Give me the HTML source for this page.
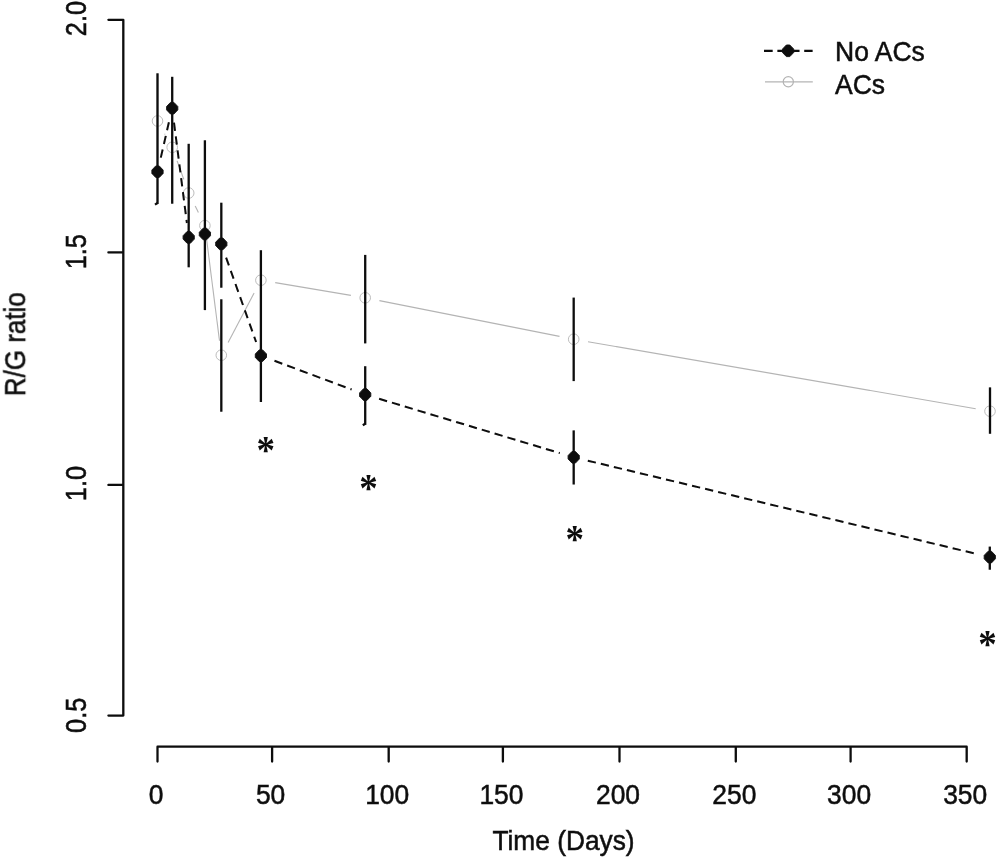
<!DOCTYPE html>
<html lang="en"><head><meta charset="utf-8"><title>R/G ratio over time</title>
<style>html,body{margin:0;padding:0;background:#fff}svg{display:block}text{font-family:"Liberation Sans",Arial,sans-serif;fill:#111;stroke:#111;stroke-width:0.5px}</style></head><body>
<svg width="1003" height="859" viewBox="0 0 1003 859">
<rect width="1003" height="859" fill="#fff"/>
<defs><filter id="soft" x="0" y="0" width="100%" height="100%" filterUnits="userSpaceOnUse"><feGaussianBlur stdDeviation="0.4"/></filter></defs>
<g filter="url(#soft)">
<g stroke="#0d0d0d" stroke-width="2.3" fill="none" stroke-linecap="round" stroke-linejoin="round">
<path d="M108.4 19.8H123.3V715.6H108.4M108.4 252.4H123.3M108.4 484.9H123.3"/>
<path d="M157.5 761.6V746.7H966.7V761.6M272.1 746.7V761.6M388.7 746.7V761.6M502.9 746.7V761.6M619.5 746.7V761.6M735.8 746.7V761.6M850.6 746.7V761.6"/>
</g>
<g font-size="26.4" text-anchor="middle">
<text transform="translate(156.0 803.7) scale(1 1.08)">0</text>
<text transform="translate(270.6 803.7) scale(1 1.08)">50</text>
<text transform="translate(387.2 803.7) scale(1 1.08)">100</text>
<text transform="translate(501.4 803.7) scale(1 1.08)">150</text>
<text transform="translate(618.0 803.7) scale(1 1.08)">200</text>
<text transform="translate(734.3 803.7) scale(1 1.08)">250</text>
<text transform="translate(849.1 803.7) scale(1 1.08)">300</text>
<text transform="translate(965.2 803.7) scale(1 1.08)">350</text>
<text transform="translate(86.1 18.5) rotate(-90) scale(1 1.17)" font-size="25.4">2.0</text>
<text transform="translate(86.1 251.7) rotate(-90) scale(1 1.17)" font-size="25.4">1.5</text>
<text transform="translate(86.1 483.5) rotate(-90) scale(1 1.17)" font-size="25.4">1.0</text>
<text transform="translate(86.1 715.3) rotate(-90) scale(1 1.17)" font-size="25.4">0.5</text>
</g>
<text transform="translate(563.5 850.2) scale(1 1.08)" font-size="26.3" text-anchor="middle">Time (Days)</text>
<text transform="translate(24.7 344.2) rotate(-90) scale(1 1.1)" font-size="26" text-anchor="middle">R/G ratio</text>
<g stroke="#b4b4b4" stroke-width="1.1" fill="none">
<line x1="164.6" y1="133.7" x2="165.1" y2="134.6"/>
<line x1="177.1" y1="160.9" x2="183.8" y2="179.4"/>
<line x1="195.2" y1="206.0" x2="198.4" y2="212.6"/>
<line x1="206.7" y1="240.0" x2="219.5" y2="340.8"/>
<line x1="228.1" y1="342.4" x2="254.1" y2="293.0"/>
<line x1="275.2" y1="282.6" x2="350.9" y2="295.4"/>
<line x1="379.4" y1="300.6" x2="559.5" y2="336.4"/>
<line x1="588.0" y1="341.7" x2="975.7" y2="408.7"/>
<circle cx="157.5" cy="121.0" r="5.3" stroke="#bcbcbc" stroke-width="1"/>
<circle cx="172.2" cy="147.3" r="5.3" stroke="#bcbcbc" stroke-width="1"/>
<circle cx="188.7" cy="193.0" r="5.3" stroke="#bcbcbc" stroke-width="1"/>
<circle cx="204.9" cy="225.6" r="5.3" stroke="#bcbcbc" stroke-width="1"/>
<circle cx="221.3" cy="355.2" r="5.3" stroke="#bcbcbc" stroke-width="1"/>
<circle cx="260.9" cy="280.2" r="5.3" stroke="#bcbcbc" stroke-width="1"/>
<circle cx="365.2" cy="297.8" r="5.3" stroke="#bcbcbc" stroke-width="1"/>
<circle cx="573.7" cy="339.2" r="5.3" stroke="#bcbcbc" stroke-width="1"/>
<circle cx="990.0" cy="411.2" r="5.3" stroke="#bcbcbc" stroke-width="1"/>
</g>
<g stroke="#0a0a0a" stroke-width="2.3" fill="none">
<path d="M157.5 203L155 204.6M365.2 423.8L362.8 425.2"/>
<line x1="157.5" y1="73.3" x2="157.5" y2="204.0"/>
<line x1="172.2" y1="76.8" x2="172.2" y2="203.7"/>
<line x1="188.7" y1="143.8" x2="188.7" y2="267.3"/>
<line x1="204.9" y1="140.3" x2="204.9" y2="310.1"/>
<line x1="221.3" y1="202.7" x2="221.3" y2="287.7"/>
<line x1="221.3" y1="299.3" x2="221.3" y2="411.7"/>
<line x1="260.9" y1="250.2" x2="260.9" y2="402.0"/>
<line x1="365.2" y1="254.9" x2="365.2" y2="343.4"/>
<line x1="365.2" y1="366.2" x2="365.2" y2="424.9"/>
<line x1="573.7" y1="297.6" x2="573.7" y2="381.1"/>
<line x1="573.7" y1="430.4" x2="573.7" y2="484.5"/>
<line x1="990.0" y1="387.4" x2="990.0" y2="433.8"/>
<line x1="989.8" y1="546.6" x2="989.8" y2="569.7"/>
</g>
<g stroke="#0a0a0a" stroke-width="2" fill="none">
<line x1="160.8" y1="157.6" x2="168.9" y2="122.3" stroke-dasharray="8.3 5.7"/>
<line x1="174.0" y1="122.6" x2="186.9" y2="223.0" stroke-dasharray="8.3 5.7"/>
<line x1="226.1" y1="257.6" x2="256.1" y2="342.0" stroke-dasharray="8.3 5.7"/>
<line x1="274.5" y1="360.8" x2="351.6" y2="389.5" stroke-dasharray="8.3 5.2"/>
<line x1="379.1" y1="398.8" x2="559.8" y2="453.1" stroke-dasharray="8.3 5.1"/>
<line x1="587.8" y1="460.7" x2="975.7" y2="553.7" stroke-dasharray="8.3 5.1"/>
</g>
<g fill="#0a0a0a" stroke="#0a0a0a" stroke-width="0.9" stroke-linejoin="round">
<polygon transform="translate(157.5 171.7)" points="-1.7,-5.8 1.7,-5.8 5.6,-1.7 5.6,1.7 1.7,5.8 -1.7,5.8 -5.6,1.7 -5.6,-1.7"/>
<polygon transform="translate(172.2 108.2)" points="-1.7,-5.8 1.7,-5.8 5.6,-1.7 5.6,1.7 1.7,5.8 -1.7,5.8 -5.6,1.7 -5.6,-1.7"/>
<polygon transform="translate(188.7 237.4)" points="-1.7,-5.8 1.7,-5.8 5.6,-1.7 5.6,1.7 1.7,5.8 -1.7,5.8 -5.6,1.7 -5.6,-1.7"/>
<polygon transform="translate(204.9 234.0)" points="-1.7,-5.8 1.7,-5.8 5.6,-1.7 5.6,1.7 1.7,5.8 -1.7,5.8 -5.6,1.7 -5.6,-1.7"/>
<polygon transform="translate(221.3 243.9)" points="-1.7,-5.8 1.7,-5.8 5.6,-1.7 5.6,1.7 1.7,5.8 -1.7,5.8 -5.6,1.7 -5.6,-1.7"/>
<polygon transform="translate(260.9 355.7)" points="-1.7,-5.8 1.7,-5.8 5.6,-1.7 5.6,1.7 1.7,5.8 -1.7,5.8 -5.6,1.7 -5.6,-1.7"/>
<polygon transform="translate(365.2 394.6)" points="-1.7,-5.8 1.7,-5.8 5.6,-1.7 5.6,1.7 1.7,5.8 -1.7,5.8 -5.6,1.7 -5.6,-1.7"/>
<polygon transform="translate(573.7 457.3)" points="-1.7,-5.8 1.7,-5.8 5.6,-1.7 5.6,1.7 1.7,5.8 -1.7,5.8 -5.6,1.7 -5.6,-1.7"/>
<polygon transform="translate(989.8 557.1)" points="-1.7,-5.8 1.7,-5.8 5.6,-1.7 5.6,1.7 1.7,5.8 -1.7,5.8 -5.6,1.7 -5.6,-1.7"/>
</g>
<g font-size="37" text-anchor="middle" style="font-family:'Liberation Serif',serif;font-weight:bold">
<text transform="translate(265.8 463.09999999999997) scale(1 1.08)" style="font-family:'Liberation Serif',serif;stroke:none">*</text>
<text transform="translate(368.6 501.0) scale(1 1.08)" style="font-family:'Liberation Serif',serif;stroke:none">*</text>
<text transform="translate(574.7 551.6) scale(1 1.08)" style="font-family:'Liberation Serif',serif;stroke:none">*</text>
<text transform="translate(987.6 656.5) scale(1 1.08)" style="font-family:'Liberation Serif',serif;stroke:none">*</text>
</g>
<g>
<line x1="764" y1="50.8" x2="812.6" y2="50.8" stroke="#0a0a0a" stroke-width="2.2" stroke-dasharray="8.7 4.7"/>
<polygon transform="translate(788.1 50.8)" points="-1.7,-5.8 1.7,-5.8 5.6,-1.7 5.6,1.7 1.7,5.8 -1.7,5.8 -5.6,1.7 -5.6,-1.7" fill="#0a0a0a" stroke="#0a0a0a" stroke-width="0.9" stroke-linejoin="round"/>
<line x1="765" y1="81.8" x2="812.8" y2="81.8" stroke="#b4b4b4" stroke-width="1.2"/>
<circle cx="788.3" cy="81.8" r="5.1" fill="none" stroke="#b4b4b4" stroke-width="1.2"/>
<text transform="translate(835 60.8) scale(1 1.01)" font-size="26.5">No ACs</text>
<text transform="translate(835 93.7) scale(1 1.01)" font-size="26.5">ACs</text>
</g>
</g>
</svg></body></html>
